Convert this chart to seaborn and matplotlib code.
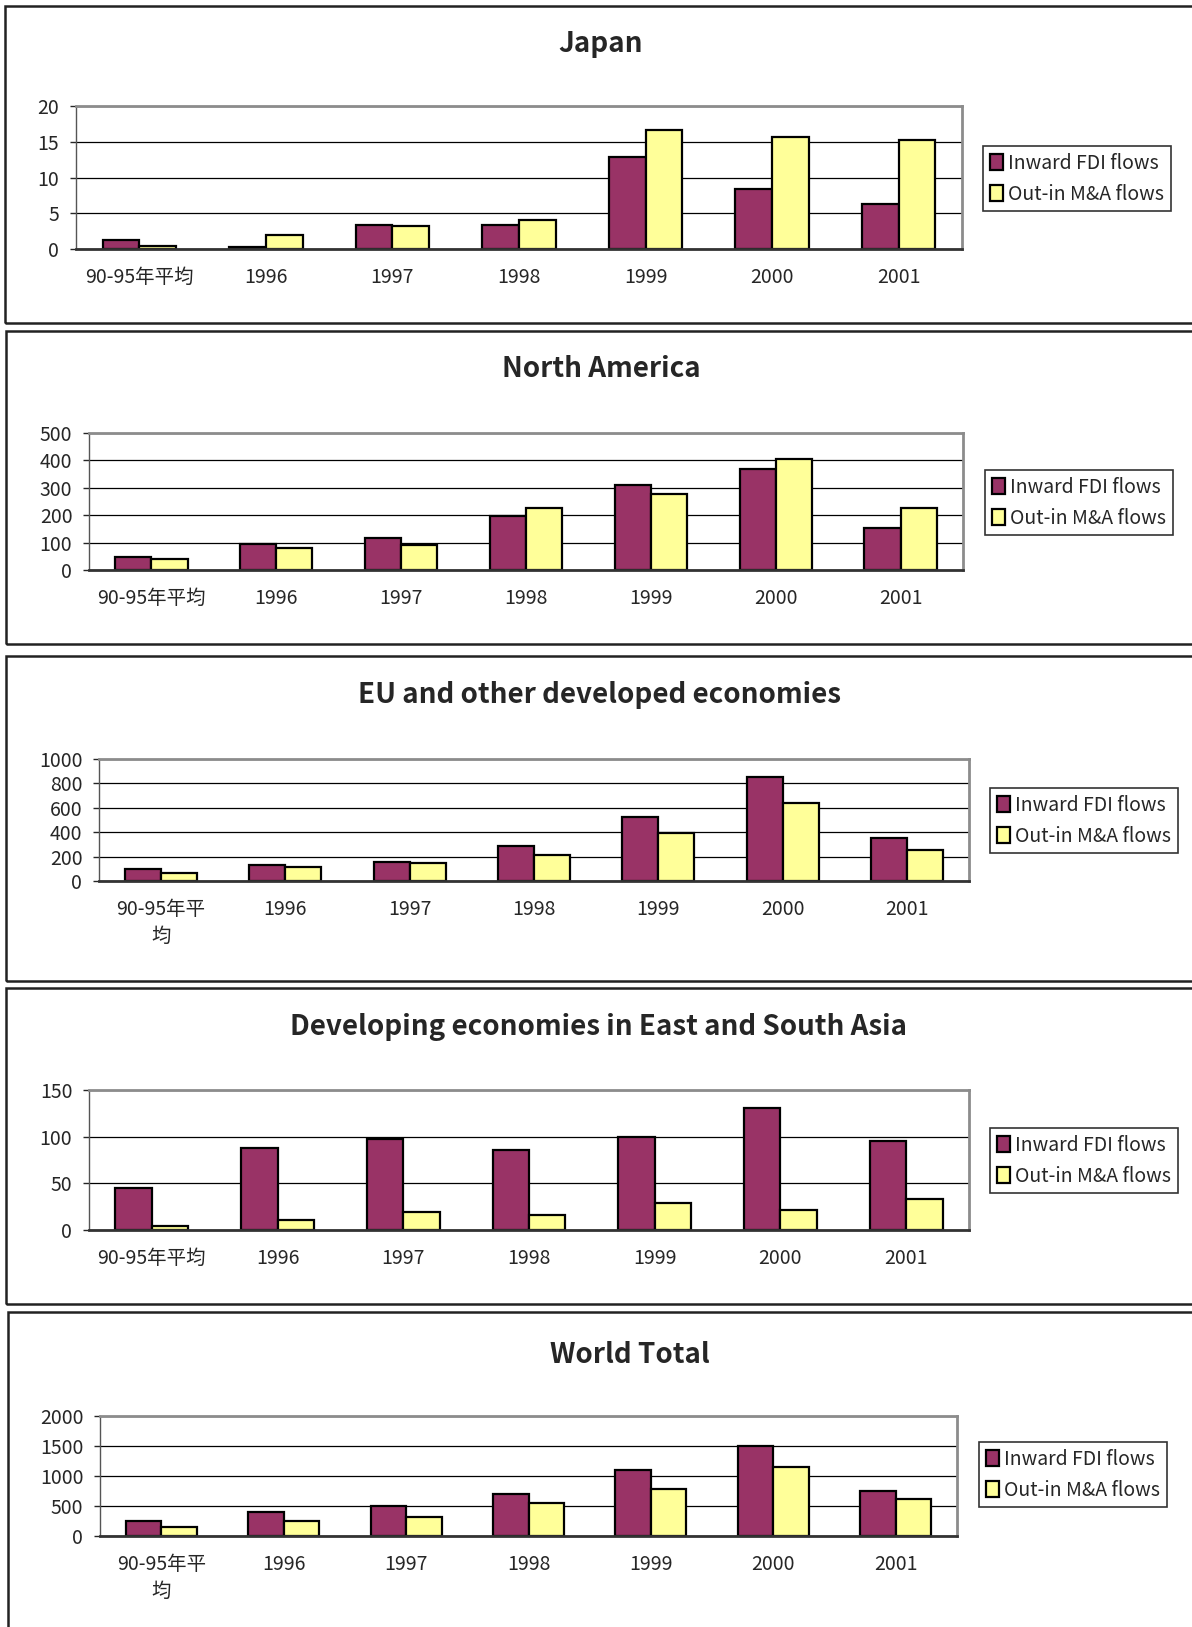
import numpy as np
import pandas as pd
import matplotlib
matplotlib.use("Agg")
import matplotlib.pyplot as plt
from matplotlib.patches import Rectangle
import seaborn as sns

# periods and series
periods = ["90-95", "1996", "1997", "1998", "1999", "2000", "2001"]
labels_one_line = ["90-95年平均", "1996", "1997", "1998", "1999", "2000", "2001"]
labels_wrapped = ["90-95年平\n均", "1996", "1997", "1998", "1999", "2000", "2001"]
series_names = ["Inward FDI flows", "Out-in M&A flows"]

japan_inward = [1.3, 0.3, 3.3, 3.3, 12.8, 8.4, 6.3]
japan_outin = [0.4, 1.9, 3.2, 4.1, 16.6, 15.7, 15.3]

na_inward = [49, 95, 116, 198, 309, 370, 154]
na_outin = [41, 80, 90, 227, 278, 404, 228]

eu_inward = [101, 131, 155, 289, 526, 853, 349]
eu_outin = [68, 112, 144, 215, 392, 640, 256]

asia_inward = [45, 88, 97, 86, 100, 131, 95]
asia_outin = [4.6, 10.4, 19, 16, 29, 21, 33]

world_inward = [244, 406, 500, 706, 1100, 1506, 756]
world_outin = [144, 244, 322, 544, 778, 1156, 611]

W, H = 1192, 1627
sns.set_style("white")
plt.rcParams["font.family"] = ["Noto Sans CJK JP", "DejaVu Sans"]

fig = plt.figure(figsize=(W / 100, H / 100), dpi=100)


def fbox(l, t, r, b):
    return [l / W, 1 - b / H, (r - l) / W, (b - t) / H]


# panel settings: title, data, ylim, step, tick labels, frame, axes, legend, title pos
panels = [
    dict(title="Japan", inward=japan_inward, outin=japan_outin, ymax=20, step=5,
         xlabels=labels_one_line, frame=(5, 6, 323), axes=(76, 106, 962, 249),
         legend=(983, 146), tpos=(601, 44)),
    dict(title="North America", inward=na_inward, outin=na_outin, ymax=500, step=100,
         xlabels=labels_one_line, frame=(6, 331, 644), axes=(89, 433, 963, 570),
         legend=(985, 470), tpos=(601, 369)),
    dict(title="EU and other developed economies", inward=eu_inward, outin=eu_outin,
         ymax=1000, step=200, xlabels=labels_wrapped, frame=(6, 656, 981),
         axes=(99, 759, 969, 881), legend=(990, 788), tpos=(599, 695)),
    dict(title="Developing economies in East and South Asia", inward=asia_inward,
         outin=asia_outin, ymax=150, step=50, xlabels=labels_one_line,
         frame=(6, 988, 1304), axes=(89, 1090, 969, 1230), legend=(990, 1128),
         tpos=(598, 1027)),
    dict(title="World Total", inward=world_inward, outin=world_outin, ymax=2000, step=500,
         xlabels=labels_wrapped, frame=(8, 1312, 1660), axes=(100, 1416, 957, 1536),
         legend=(979, 1442), tpos=(630, 1355)),
]

colors = ["#993366", "#FFFF99"]

for p in panels:
    fl, ft, fb = p["frame"]
    fig.patches.append(Rectangle((fl / W, 1 - fb / H), (1300 - fl) / W, (fb - ft) / H,
                                 transform=fig.transFigure, fill=False,
                                 edgecolor="#222222", linewidth=1.8))
    fig.text(p["tpos"][0] / W, 1 - p["tpos"][1] / H, p["title"], ha="center",
             va="center", fontsize=20, fontweight="bold")

    ax = fig.add_axes(fbox(*p["axes"]))
    df = pd.DataFrame({
        "period": periods * 2,
        "value": p["inward"] + p["outin"],
        "series": [series_names[0]] * 7 + [series_names[1]] * 7,
    })
    sns.barplot(data=df, x="period", y="value", hue="series", palette=colors,
                width=0.58, edgecolor="black", linewidth=1.6, saturation=1,
                ax=ax)
    ax.set_axisbelow(True)
    ax.set_xlim(-0.5, 6.5)
    ax.set_ylim(0, p["ymax"])
    ax.set_yticks(np.arange(0, p["ymax"] + 1, p["step"]))
    ax.yaxis.grid(True, color="black", linewidth=0.9)
    ax.set_xlabel("")
    ax.set_ylabel("")
    ax.set_xticks(range(7))
    ax.set_xticklabels(p["xlabels"], fontsize=14, linespacing=1.35, va="top")
    ax.set_xticks(np.arange(-0.5, 7, 1), minor=True)
    ax.tick_params(axis="x", which="major", length=0, pad=13)
    ax.tick_params(axis="x", which="minor", length=5, width=1, color="#444444",
                   direction="out")
    ax.tick_params(axis="y", labelsize=14, length=4, width=1, pad=8,
                   direction="out", left=True)
    for s in ["top", "right"]:
        ax.spines[s].set_color("#8c8c8c")
        ax.spines[s].set_linewidth(2)
    ax.spines["left"].set_color("#555555")
    ax.spines["left"].set_linewidth(1)
    ax.spines["bottom"].set_color("#333333")
    ax.spines["bottom"].set_linewidth(2)

    handles, labs = ax.get_legend_handles_labels()
    ax.get_legend().remove()
    lg = ax.legend(handles, labs, loc="upper left",
                   bbox_to_anchor=(p["legend"][0] / W, 1 - p["legend"][1] / H),
                   bbox_transform=fig.transFigure, fontsize=14, frameon=True,
                   fancybox=False, edgecolor="black", handlelength=0.7,
                   handleheight=0.9, handletextpad=0.25, labelspacing=0.5,
                   borderpad=0.35, borderaxespad=0)
    lg.get_frame().set_linewidth(1.2)

fig.savefig("out.png", dpi=100)
